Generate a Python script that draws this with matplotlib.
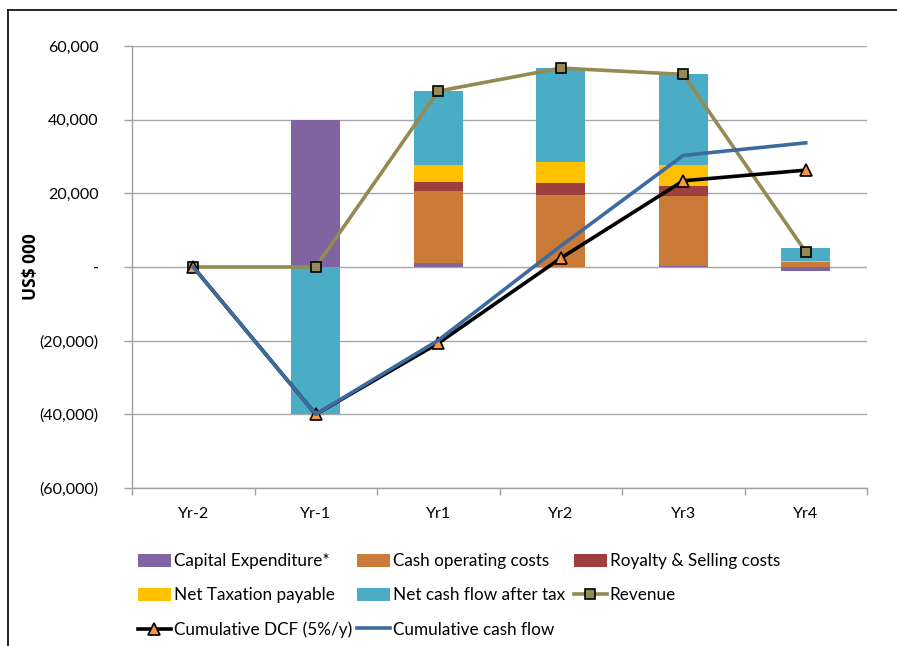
import matplotlib
matplotlib.use("Agg")
import matplotlib.pyplot as plt
import numpy as np
from matplotlib.patches import Rectangle
from matplotlib.lines import Line2D
from matplotlib.ticker import FuncFormatter, MultipleLocator, FixedLocator

plt.rcParams['font.family'] = ['Lato', 'DejaVu Sans']

years = ["Yr-2", "Yr-1", "Yr1", "Yr2", "Yr3", "Yr4"]
capex = [0, 40000, 1100, 0, 400, -1000]
opex = [0, 0, 19500, 19600, 18900, 1300]
royalty = [0, 0, 2450, 3100, 2700, 150]
tax = [0, 0, 4600, 5700, 5700, 250]
net_cf = [0, -40000, 20100, 25600, 24600, 3400]
revenue = [0, 0, 47750, 54000, 52300, 4100]
cum_dcf = [0, -40000, -20700, 2400, 23400, 26300]
cum_cf = [0, -40000, -19900, 5700, 30300, 33700]

bar_series = [
    ("Capital Expenditure*", capex, "#8064A2"),
    ("Cash operating costs", opex, "#CC7A38"),
    ("Royalty & Selling costs", royalty, "#9E3E3E"),
    ("Net Taxation payable", tax, "#FFC000"),
    ("Net cash flow after tax", net_cf, "#4BACC6"),
]

fig = plt.figure(figsize=(8.97, 6.46), dpi=100)
ax = fig.add_axes([132 / 897, 1 - 488 / 646, (867 - 132) / 897, (488 - 46) / 646])

x = np.arange(len(years))
pos_base = np.zeros(len(years))
neg_base = np.zeros(len(years))
handles = {}
for name, vals, col in bar_series:
    v = np.array(vals, dtype=float)
    bottom = np.where(v >= 0, pos_base, neg_base)
    ax.bar(x, v, bottom=bottom, width=0.40, color=col, zorder=2, linewidth=0)
    pos_base = pos_base + np.where(v > 0, v, 0)
    neg_base = neg_base + np.where(v < 0, v, 0)
    handles[name] = Rectangle((0, 0), 1, 1, facecolor=col, edgecolor='none')

rev_line, = ax.plot(x, revenue, color="#948A54", lw=2.6, marker='s', ms=6.5,
                    mfc="#948A54", mec="black", mew=1.2, zorder=4,
                    label="Revenue")
dcf_line, = ax.plot(x, cum_dcf, color="black", lw=2.6, marker='^', ms=9,
                    mfc="#F79646", mec="black", mew=1.2, zorder=5,
                    label="Cumulative DCF (5%/y)")
cf_line, = ax.plot(x, cum_cf, color="#3D6A9F", lw=2.6, zorder=6,
                   label="Cumulative cash flow")

ax.set_xlim(-0.5, len(years) - 0.5)
ax.set_ylim(-60000, 60000)
ax.yaxis.set_major_locator(MultipleLocator(20000))


def fmt(v, pos):
    if abs(v) < 1e-6:
        return "-"
    if v < 0:
        return "({:,.0f})".format(-v)
    return "{:,.0f}".format(v)


ax.yaxis.set_major_formatter(FuncFormatter(fmt))
ax.set_xticks(x)
ax.set_xticklabels(years)
ax.xaxis.set_minor_locator(FixedLocator(np.arange(-0.5, len(years), 1.0)))
ax.tick_params(axis='x', which='major', length=0, pad=14, labelsize=11.5,
               colors='black')
ax.tick_params(axis='x', which='minor', length=5, color='#A0A0A0', width=1)
ax.tick_params(axis='y', which='major', length=6, color='#A0A0A0', width=1,
               labelsize=11.5, pad=18)

ax.grid(axis='y', color='#A6A6A6', lw=1, zorder=0)
ax.set_axisbelow(True)
for s in ['top', 'right']:
    ax.spines[s].set_visible(False)
for s in ['left', 'bottom']:
    ax.spines[s].set_color('#A0A0A0')
    ax.spines[s].set_linewidth(1)

ax.set_ylabel("US$ 000", fontsize=12.5, fontweight='bold',
              family=['Open Sans', 'DejaVu Sans'])
ax.yaxis.set_label_coords(-0.125, 0.5)

# legend laid out as three fixed columns
legend_columns = [
    (138, [(handles["Capital Expenditure*"], "Capital Expenditure*"),
           (handles["Net Taxation payable"], "Net Taxation payable"),
           (dcf_line, "Cumulative DCF (5%/y)")]),
    (357, [(handles["Cash operating costs"], "Cash operating costs"),
           (handles["Net cash flow after tax"], "Net cash flow after tax"),
           (cf_line, "Cumulative cash flow")]),
    (574, [(handles["Royalty & Selling costs"], "Royalty & Selling costs"),
           (rev_line, "Revenue")]),
]
for left_px, items in legend_columns:
    h, l = zip(*items)
    fig.legend(list(h), list(l), loc='upper left',
               bbox_to_anchor=(left_px / 897, 1 - 553 / 646), ncol=1,
               frameon=False, fontsize=12.3, handlelength=1.93,
               handleheight=0.8, handletextpad=0.15, labelspacing=1.07,
               borderpad=0, borderaxespad=0)

# outer frame lines along the left and top edges
fig.add_artist(Line2D([8 / 897, 8 / 897], [0, 1 - 10 / 646], color='black',
                      lw=1.2, transform=fig.transFigure))
fig.add_artist(Line2D([8 / 897, 1], [1 - 10 / 646, 1 - 10 / 646],
                      color='black', lw=1.2, transform=fig.transFigure))

fig.savefig("out.png", dpi=100)
